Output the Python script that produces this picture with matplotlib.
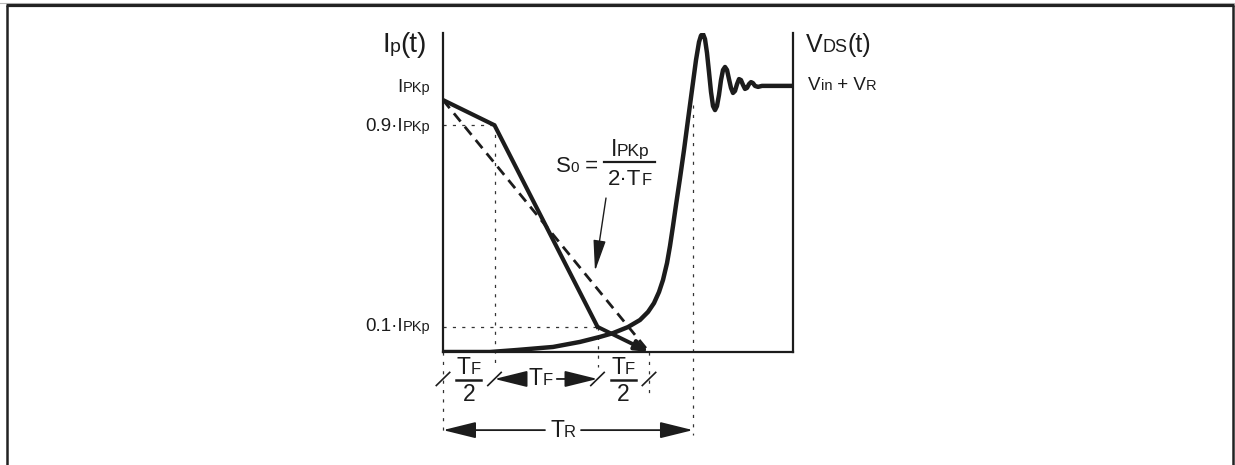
import matplotlib
matplotlib.use("Agg")
import matplotlib.pyplot as plt
from matplotlib.lines import Line2D
from matplotlib.offsetbox import TextArea, HPacker, AnnotationBbox

FAM = ['Liberation Sans', 'DejaVu Sans']
INK = '#1c1c1c'

# Time in units of TF/2, primary current in units of IPKp
t_knees = [0.0, 1.0, 3.0, 4.0]
ip_knees = [1.0, 0.9, 0.1, 0.0]
t_slope = [0.0, 4.0]
ip_slope = [1.0, 0.0]
t_reset = 4.854
v_plateau = 1.056

# Drain-source voltage during turn-off (same vertical scale)
t_vds = [0.000, 0.913, 1.437, 2.136, 2.660, 3.049, 3.301, 3.592, 3.825, 3.981,
         4.097, 4.194, 4.272, 4.350, 4.408, 4.466, 4.524, 4.602, 4.680, 4.757,
         4.835, 4.913, 4.971, 5.010, 5.049, 5.087, 5.126, 5.165, 5.204, 5.243,
         5.282, 5.320, 5.359, 5.398, 5.437, 5.476, 5.515, 5.553, 5.592, 5.631,
         5.670, 5.709, 5.748, 5.786, 5.825, 5.864, 5.903, 5.942, 5.981, 6.019,
         6.058, 6.117, 6.194, 6.796]
v_vds = [0.000, 0.000, 0.008, 0.020, 0.040, 0.060, 0.075, 0.099, 0.127, 0.159,
         0.194, 0.238, 0.286, 0.353, 0.421, 0.500, 0.583, 0.690, 0.802, 0.921,
         1.040, 1.159, 1.230, 1.256, 1.262, 1.242, 1.187, 1.111, 1.032, 0.976,
         0.960, 0.976, 1.020, 1.079, 1.119, 1.131, 1.119, 1.083, 1.048, 1.028,
         1.036, 1.063, 1.083, 1.079, 1.060, 1.044, 1.048, 1.063, 1.071, 1.067,
         1.056, 1.052, 1.056, 1.056]

fig = plt.figure(figsize=(12.35, 4.65), dpi=100)
fig.patch.set_facecolor('white')

# page frame: heavy rule on top, thin rules down both sides
fig.add_artist(Line2D([0, 1234 / 1235], [1 - 3 / 465] * 2, transform=fig.transFigure,
                      color='#b8b8b8', lw=0.8))
fig.add_artist(Line2D([6 / 1235, 1234 / 1235], [1 - 5.5 / 465] * 2, transform=fig.transFigure,
                      color='#222222', lw=2.3, solid_capstyle='butt'))
for xf in (7 / 1235, 1233 / 1235):
    fig.add_artist(Line2D([xf, xf], [0, 1 - 5.5 / 465], transform=fig.transFigure,
                          color='#222222', lw=1.8, solid_capstyle='butt'))

ax = fig.add_axes([443 / 1235, 113 / 465, 350 / 1235, 319 / 465])
ax.set_xlim(0, 350 / 51.5)
ax.set_ylim(0, 319 / 252)
ax.set_xticks([])
ax.set_yticks([])
ax.patch.set_alpha(0)
ax.spines['top'].set_visible(False)
for s in ('left', 'bottom', 'right'):
    ax.spines[s].set_linewidth(1.6)
    ax.spines[s].set_color(INK)

dot = dict(color='#333333', lw=0.9, linestyle=(0, (2.5, 5)), clip_on=False)

# guide lines for the 90 % and 10 % current levels
ax.plot([t_knees[0], t_knees[1]], [ip_knees[1]] * 2, **dot)
ax.plot([t_knees[0], t_knees[2]], [ip_knees[2]] * 2, **dot)
ax.plot([t_knees[1]] * 2, [ip_knees[1], -0.06], **dot)
ax.plot([t_knees[2]] * 2, [ip_knees[2], -0.06], **dot)
ax.plot([t_knees[0]] * 2, [0, -0.33], **dot)
ax.plot([t_knees[3]] * 2, [0, -0.17], **dot)
ax.plot([t_reset] * 2, [0.98, -0.33], **dot)

# drain voltage
ax.plot(t_vds, v_vds, color=INK, lw=3.2, solid_joinstyle='round', solid_capstyle='butt',
        zorder=4)

# average slope
ax.plot(t_slope, ip_slope, color=INK, lw=2.0, dashes=(3.8, 2.4), zorder=3)

# primary current, ending in an arrow
ax.plot(t_knees[:3], ip_knees[:3], color=INK, lw=3.0, solid_joinstyle='miter', zorder=5)
ax.annotate('', xy=(t_knees[3], ip_knees[3]), xytext=(t_knees[2], ip_knees[2]),
            arrowprops=dict(arrowstyle='-|>,head_length=0.8,head_width=0.3',
                            lw=2.8, color=INK, shrinkA=0, shrinkB=0, mutation_scale=10),
            zorder=5)


def rich(parts, xy, align=(0.5, 0.5)):
    """Place text made of (string, size) pieces sharing one baseline."""
    boxes = [TextArea(s, textprops=dict(fontsize=fs, family=FAM, color=INK))
             for s, fs in parts]
    pack = HPacker(children=boxes, align='baseline', pad=0, sep=0)
    ab = AnnotationBbox(pack, xy, xycoords='data', box_alignment=align,
                        frameon=False, pad=0, annotation_clip=False)
    ax.add_artist(ab)
    return ab


# axis titles
rich([('I', 20), ('p', 14), ('(t)', 20)], (-0.31, 1.218), (1, 0.5))
rich([('V', 18), ('DS', 13), ('(t)', 18)], (7.05, 1.218), (0, 0.5))
rich([('V', 13.5), ('in', 10.5), (' + V', 13.5), ('R', 10.5)], (7.09, v_plateau), (0, 0.5))

# current levels
rich([('I', 13.5), ('PKp', 10.5)], (-0.25, 1.048), (1, 0.5))
rich([('0.9·I', 13.5), ('PKp', 10.5)], (-0.25, ip_knees[1] - 0.007), (1, 0.5))
rich([('0.1·I', 13.5), ('PKp', 10.5)], (-0.25, ip_knees[2]), (1, 0.5))

# slope annotation
rich([('S', 16), ('0', 11), (' =', 16)], (3.01, 0.738), (1, 0.5))
ax.plot([3.126, 4.117], [0.754, 0.754], color=INK, lw=1.6, clip_on=False)
rich([('I', 16.5), ('PKp', 12.5)], (3.631, 0.803), (0.5, 0.5))
rich([('2·T', 16), ('F', 12)], (3.631, 0.685), (0.5, 0.5))
ax.annotate('', xy=(2.951, 0.321), xytext=(3.165, 0.611),
            arrowprops=dict(arrowstyle='-|>,head_length=1.6,head_width=0.32',
                            lw=1.0, color=INK, shrinkA=0, shrinkB=0, mutation_scale=12))

# timing dimensions below the axis
y_row = -0.107
for tk in t_knees:
    ax.plot([tk - 0.13, tk + 0.13], [y_row - 0.026, y_row + 0.026], color=INK, lw=1.2,
            clip_on=False)
for tc in (0.5 * (t_knees[0] + t_knees[1]), 0.5 * (t_knees[2] + t_knees[3])):
    ax.plot([tc - 0.243, tc + 0.243], [y_row - 0.004] * 2, color=INK, lw=1.8, clip_on=False)
    rich([('T', 16.5), ('F', 12)], (tc, -0.060), (0.5, 0.5))
    rich([('2', 16.5)], (tc, -0.170), (0.5, 0.5))

head = dict(arrowstyle='-|>,head_length=1.7,head_width=0.42', lw=1.3, color=INK,
            shrinkA=0, shrinkB=0, mutation_scale=12)
ax.annotate('', xy=(t_knees[1], y_row), xytext=(1.57, y_row), arrowprops=head,
            annotation_clip=False)
ax.annotate('', xy=(t_knees[2], y_row), xytext=(2.21, y_row), arrowprops=head,
            annotation_clip=False)
rich([('T', 16.5), ('F', 12)], (1.89, y_row), (0.5, 0.5))

y_tr = -0.31
ax.annotate('', xy=(0.0, y_tr), xytext=(1.98, y_tr), arrowprops=head, annotation_clip=False)
ax.annotate('', xy=(t_reset, y_tr), xytext=(2.68, y_tr), arrowprops=head,
            annotation_clip=False)
rich([('T', 16.5), ('R', 12)], (2.33, y_tr), (0.5, 0.5))

fig.savefig('out.png', dpi=100, facecolor='white')
